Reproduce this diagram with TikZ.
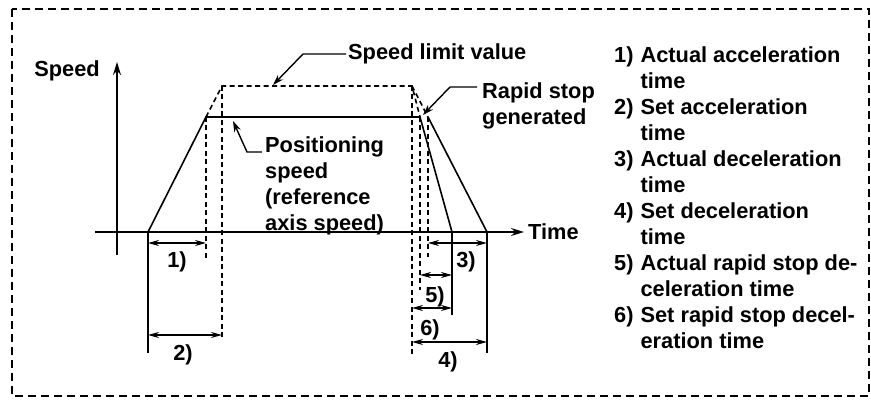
\documentclass[tikz,border=0pt]{standalone}
\usepackage{fontspec}
\setmainfont{Liberation Sans}
\usetikzlibrary{arrows.meta,positioning,calc}

\begin{document}
\begin{tikzpicture}[x=1pt, y=-1pt,
    every node/.style={font=\fontsize{21.8}{26}\selectfont\bfseries, inner sep=0pt},
    frameLine/.style={line width=1.8pt, dash pattern=on 8pt off 5pt},
    solidLine/.style={line width=1.6pt},
    dashLine/.style={line width=1.6pt, dash pattern=on 5pt off 3.5pt},
    dimArrow/.style={{Stealth[length=11pt,width=6pt]}-{Stealth[length=11pt,width=6pt]}, line width=1.4pt},
    leader/.style={-{Stealth[length=11pt,width=7pt]}, line width=1.4pt},
    axisArrow/.style={-{Stealth[length=13pt,width=8pt]}, line width=1.6pt}
  ]
  \useasboundingbox (0,0) rectangle (871,403);

  % Frame
  \draw[frameLine] (12,9) rectangle (869,396);

  % Profile points
  \coordinate (t0) at (148,232);
  \coordinate (a1) at (206,117);
  \coordinate (a2) at (222,86);
  \coordinate (d0) at (412,86);
  \coordinate (r1) at (420,117);
  \coordinate (d1) at (428,117);
  \coordinate (r2) at (452,232);
  \coordinate (d2) at (487,232);

  % Axes
  \coordinate (sBot) at (117,255);
  \coordinate (sTop) at (117,62);
  \coordinate (tLeft) at (95,232);
  \coordinate (tRight) at (524,232);
  \draw[axisArrow] (sBot) -- (sTop);
  \draw[axisArrow] (tLeft) -- (tRight);

  % Speed profiles
  \draw[solidLine] (t0) -- (a1) -- (r1) -- (r2);
  \draw[solidLine] (d1) -- (d2);
  \draw[dashLine] (a1) -- (a2) -- (d0) -- (r1);
  \draw[dashLine] (d0) -- (d1);

  % Extension lines
  \draw[solidLine] (t0) -- (148,353);
  \draw[solidLine] (r2) -- (452,315);
  \draw[solidLine] (d2) -- (487,353);
  \draw[dashLine] (a1) -- (206,260);
  \draw[dashLine] (a2) -- (222,340);
  \draw[dashLine] (d0) -- (412,355);
  \draw[dashLine] (r1) -- (420,290);
  \draw[dashLine] (d1) -- (428,257);

  % Dimension levels
  \coordinate (lv1) at (0,243);
  \coordinate (lv5) at (0,275);
  \coordinate (lv6) at (0,308);
  \coordinate (lv2) at (0,335);
  \coordinate (lv4) at (0,342);

  \draw[dimArrow] (t0 |- lv1) -- (a1 |- lv1);
  \draw[dimArrow] (t0 |- lv2) -- (a2 |- lv2);
  \draw[dimArrow] (d1 |- lv1) -- (d2 |- lv1);
  \draw[dimArrow] (d0 |- lv4) -- (d2 |- lv4);
  \draw[dimArrow] (r1 |- lv5) -- (r2 |- lv5);
  \draw[dimArrow] (d0 |- lv6) -- (r2 |- lv6);

  \node (dim1) at (177,262) {1)};
  \node (dim2) at (183,355) {2)};
  \node (dim3) at (466,262) {3)};
  \node (dim5) at (435,297) {5)};
  \node (dim6) at (430,330) {6)};
  \node (dim4) at (448,362) {4)};

  % Labels
  \node[anchor=east] (speedLbl) at (100,71) {Speed};
  \node[anchor=west] (timeLbl) at (528,232) {Time};
  \node[anchor=west] (limitLbl) at (348,54) {Speed limit value};
  \node[anchor=north west, align=left] (rapidLbl) at (482,83) {Rapid stop\\generated};
  \node[anchor=north west, align=left] (posLbl) at (265,137) {Positioning\\speed\\(reference\\axis speed)};

  % Leaders
  \coordinate (limitTip) at (273,85);
  \coordinate (rapidTip) at (423,115);
  \coordinate (posTip) at (233,121);
  \draw[leader] ([xshift=-2pt]limitLbl.west) -- ++(-43,0) -- (limitTip);
  \draw[leader] ($(rapidLbl.north west)+(-5,4)$) -- ++(-27,0) -- (rapidTip);
  \draw[leader] ($(posLbl.north west)+(-3,15)$) -- ++(-15,0) -- (posTip);

  % Legend
  \node[anchor=north west] (legend) at (614,44) {%
    \begin{tabular}{@{}l@{\hspace{7pt}}l@{}}
      1) & Actual acceleration\\
         & time\\
      2) & Set acceleration\\
         & time\\
      3) & Actual deceleration\\
         & time\\
      4) & Set deceleration\\
         & time\\
      5) & Actual rapid stop de-\\
         & celeration time\\
      6) & Set rapid stop decel-\\
         & eration time
    \end{tabular}};

\end{tikzpicture}
\end{document}
